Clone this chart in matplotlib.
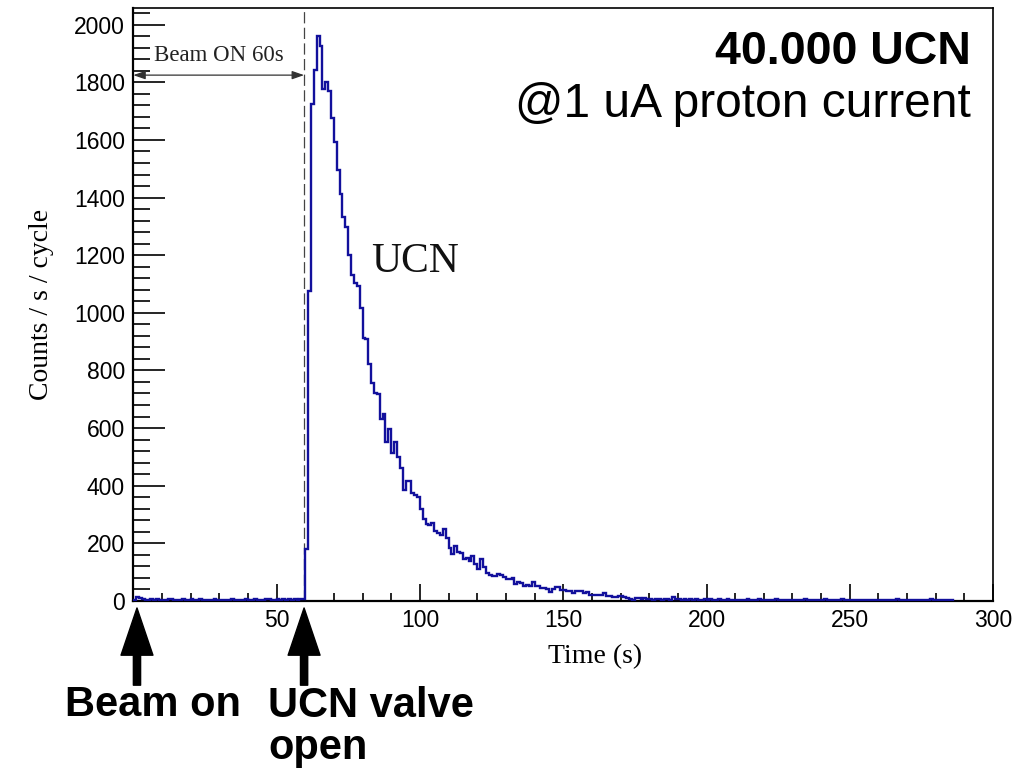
import numpy as np
import matplotlib.pyplot as plt
from matplotlib.ticker import MultipleLocator, FixedLocator

# counts per 1 s bin
pre_beam_counts = [4, 12, 10, 5, 3, 4, 6, 3, 5, 4, 3, 4, 7, 5, 3, 4, 3, 5, 2, 4,
                   6, 3, 4, 5, 3, 2, 4, 3, 5, 4, 3, 2, 4, 3, 5, 3, 4, 2, 3, 5,
                   3, 4, 8, 3, 2, 4, 5, 6, 3, 4, 7, 4, 5, 3, 6, 4, 8, 3, 5, 6]
peak_counts = [180, 1076, 1725, 1843, 1962, 1927, 1777, 1800, 1770, 1676,
               1594, 1495, 1414, 1333, 1299, 1200, 1130, 1105, 1094, 1018,
               914, 910, 823, 758, 722, 718, 631, 649, 550, 597,
               515, 550, 498, 463, 385, 417, 415, 376, 368, 362,
               318, 284, 268, 265, 272, 243, 237, 229, 250, 219,
               185, 163, 191, 170, 166, 145, 150, 139, 156, 127,
               110, 145, 116, 98, 90, 88, 87, 93, 90, 83,
               75, 76, 79, 60, 64, 63, 52, 54, 51, 67,
               52, 51, 46, 45, 41, 32, 41, 49, 47, 38,
               37, 35, 34, 29, 35, 34, 35, 29, 30, 21,
               22, 20, 21, 22, 29, 17, 18, 14, 13, 17,
               16, 12, 11, 6, 3, 10, 9, 8, 10]
tail_counts = [5, 7, 4, 6, 8, 3, 5, 6, 4, 12, 7, 5,
               4, 6, 3, 5, 4, 7, 3, 4, 6, 2, 5, 3, 4, 6, 3, 2, 5, 4, 3, 4,
               2, 4, 3, 5, 2, 3, 4, 6, 2, 3, 4, 2, 3, 5, 3, 2, 4, 3, 2, 3,
               4, 2, 3, 5, 2, 3, 2, 4, 3, 2, 5, 3, 2, 3, 4, 2, 6, 3, 2, 3,
               2, 3, 4, 2, 3, 2, 4, 3, 2, 3, 2, 4, 2, 3, 2, 5, 3, 2, 3, 2,
               3, 2, 4, 2, 3, 2, 3, 5, 2, 3, 2, 3, 2, 3, 2]
counts = np.array(pre_beam_counts + peak_counts + tail_counts, dtype=float)
edges = np.arange(len(counts) + 1, dtype=float)   # 1 s bins

x_ticks = [50, 100, 150, 200, 250, 300]   # ROOT style: no label at 0
valve_time = 59.6
beam_marker_time = 1.3

sans = ['Liberation Sans', 'DejaVu Sans']
serif = ['Liberation Serif', 'DejaVu Serif']
plt.rcParams['font.family'] = sans

fig = plt.figure(figsize=(10.33, 7.69), dpi=100)
ax = fig.add_axes([0.129, 0.2186, 0.8324, 0.7710])

ax.stairs(counts, edges, color='#12109c', lw=1.7, zorder=3)
ax.axvline(valve_time, color='#444444', lw=0.9, ls=(0, (9, 3.5)), zorder=2)

ax.set_xlim(0, 300)
ax.set_ylim(0, 2058)

ax.xaxis.set_major_locator(FixedLocator(x_ticks))
ax.xaxis.set_minor_locator(MultipleLocator(10))
ax.yaxis.set_major_locator(MultipleLocator(200))
ax.yaxis.set_minor_locator(MultipleLocator(40))
ax.tick_params(axis='y', which='major', direction='in', length=23, width=1.2,
               labelsize=16.5, pad=6, right=False)
ax.tick_params(axis='y', which='minor', direction='in', length=12, width=1.2, right=False)
ax.tick_params(axis='x', which='major', direction='in', length=12, width=1.2,
               labelsize=16.5, pad=6, top=False)
ax.tick_params(axis='x', which='minor', direction='in', length=6, width=1.2, top=False)
for side in ['left', 'bottom']:
    ax.spines[side].set_linewidth(1.6)
for side in ['top', 'right']:
    ax.spines[side].set_linewidth(1.2)

ax.set_xlabel('Time (s)', family=serif, fontsize=20)
ax.xaxis.set_label_coords(0.537, -0.094)
ax.xaxis.label.set_va('center')
ax.set_ylabel('Counts / s / cycle', family=serif, fontsize=20)
ax.yaxis.set_label_coords(-0.107, 0.5)
ax.yaxis.label.set_va('center')

# beam-on span
ax.annotate('', xy=(0, 1825), xytext=(valve_time, 1825),
            arrowprops=dict(arrowstyle='<|-|>,head_length=0.72,head_width=0.25',
                            color='#333333', lw=0.9, shrinkA=0, shrinkB=0))
ax.text(valve_time / 2, 1892, 'Beam ON 60s', family=serif, fontsize=16.5,
        ha='center', va='center', color='#222222')
ax.text(83, 1176, 'UCN', family=serif, fontsize=30, ha='left', va='center',
        color='#111111')

ax.text(0.9745, 0.926, '40.000 UCN', transform=ax.transAxes, fontsize=33.5,
        fontweight='bold', ha='right', va='center')
ax.text(0.9745, 0.838, '@1 uA proton current', transform=ax.transAxes,
        fontsize=34.5, ha='right', va='center')

# arrows under the axis
for t in [beam_marker_time, valve_time]:
    ax.annotate('', xy=(t, 0.2094), xytext=(t, 0.109),
                xycoords=('data', 'figure fraction'),
                textcoords=('data', 'figure fraction'),
                arrowprops=dict(arrowstyle='simple,head_length=1.7,head_width=1.15,tail_width=0.26',
                                mutation_scale=20, color='black',
                                shrinkA=0, shrinkB=0),
                annotation_clip=False)

fig.text(65 / 1033, 1 - 705 / 769, 'Beam on', fontsize=30, fontweight='bold',
         ha='left', va='center')
fig.text(268 / 1033, 1 - 727 / 769, 'UCN valve\nopen', fontsize=30,
         fontweight='bold', ha='left', va='center', linespacing=1.05)

fig.savefig('out.png', dpi=100)
